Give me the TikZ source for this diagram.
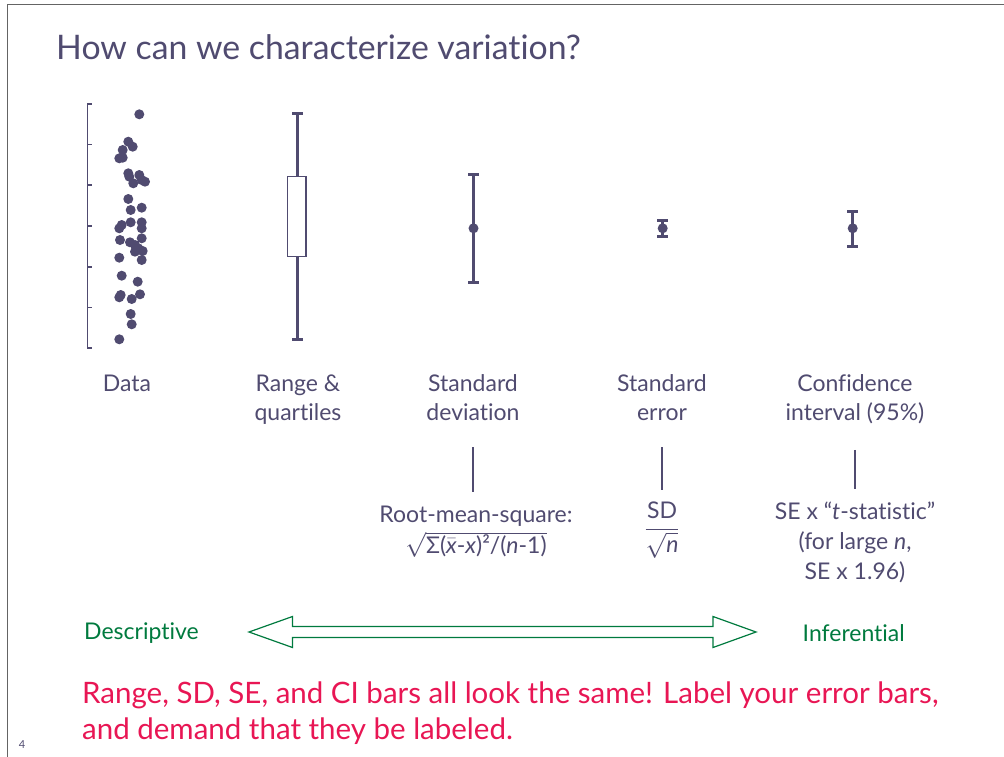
\documentclass[tikz,border=0pt]{standalone}
\usepackage{fontspec}
\setmainfont[Ligatures={NoCommon,NoRequired}]{Lato}
\definecolor{mainclr}{RGB}{80,75,112}
\definecolor{greenclr}{RGB}{0,122,62}
\definecolor{redclr}{RGB}{232,22,84}
\definecolor{frameclr}{RGB}{100,100,100}

\begin{document}
\begin{tikzpicture}[x=1pt, y=-1pt, text=mainclr, font=\fontsize{23}{29}\selectfont]
    \tikzstyle{bar_line} = [mainclr, line width=3pt]
    \tikzstyle{thin_line} = [mainclr, line width=1.2pt]
    \tikzstyle{label_text} = [align=center, inner sep=0pt]
    \tikzstyle{green_text} = [text=greenclr, font=\fontsize{23}{27}\selectfont, inner sep=0pt]

    \useasboundingbox (0,0) rectangle (1004,757);
    \draw[frameclr, line width=1.5pt] (7.5,757) -- (7.5,4.5) -- (1004,4.5);

    \node[anchor=west, inner sep=0pt, font=\fontsize{33.8}{38}\selectfont] (title) at (56,47) {How can we characterize variation?};

    % data axis
    \draw[thin_line] (91.5,104) -- (87.5,104) -- (87.5,348) -- (91.5,348);
    \foreach \y in {144.5,185,226,267,307.5}
        \draw[thin_line] (87.5,\y) -- (91.5,\y);

    % data points
    \foreach \x/\y in {139.3/114.3, 128.3/141.7, 132.7/146.7, 122.7/150, 119.3/158.3, 122.7/157.7,
                       128.3/173.3, 129.3/176.7, 139.3/175, 133.3/183.3, 145/181.7, 141.7/180,
                       128.3/199, 141.7/207.7, 130.7/210, 121.7/225, 119.3/228.3, 130.7/222.3,
                       141.7/222.3, 141.7/228.3, 120/240, 141.7/238.3, 130/242.3, 135/245,
                       138.3/248.3, 135/251.7, 142.7/251, 119.3/257.7, 141.7/260, 121.7/275.7,
                       137.7/281.7, 140/294.3, 120.7/295, 119.3/297.3, 131.7/299, 130.7/314,
                       131.7/324.3, 119.3/339.3}
        \fill[mainclr] (\x,\y) circle[radius=5];

    % range & quartiles
    \draw[bar_line] (297.3,113.3) -- (297.3,176.7);
    \draw[bar_line] (297.3,256.3) -- (297.3,339.3);
    \draw[bar_line] (292,113.3) -- (302.6,113.3);
    \draw[bar_line] (292,339.3) -- (302.6,339.3);
    \draw[mainclr, line width=1.5pt, fill=white] (287.5,176.7) rectangle (306,256.3);

    % error bars
    \foreach \x/\ytop/\ybot in {473.5/174/282.7, 662.7/220/236.7, 852.7/211/246} {
        \draw[bar_line] (\x,\ytop) -- (\x,\ybot);
        \draw[bar_line] (\x-5.5,\ytop) -- (\x+5.5,\ytop);
        \draw[bar_line] (\x-5.5,\ybot) -- (\x+5.5,\ybot);
        \fill[mainclr] (\x,228.3) circle[radius=5];
    }

    \node[label_text] (lbl_data) at (127,383) {Data};
    \node[label_text] (lbl_range) at (298,400) {Range \&\\quartiles};
    \node[label_text] (lbl_sd) at (473,398) {Standard\\deviation};
    \node[label_text] (lbl_se) at (662,398) {Standard\\error};
    \node[label_text] (lbl_ci) at (855,399) {Confidence\\interval (95\%)};

    \node[label_text] (form_sd) at (476,532) {Root-mean-square:\\[2pt]
        $\sqrt{\hbox{Σ($\bar{\hbox{\itshape x}}$-\textit{x})²/(\textit{n}-1)}}$};
    \node[label_text] (form_se) at (662,530) {$\displaystyle\frac{\hbox{SD}}{\sqrt{\hbox{\itshape n}}}$};
    \node[label_text, font=\fontsize{23}{30}\selectfont] (form_ci) at (855,542.5)
        {SE x “\textit{t}-statistic”\\(for large \textit{n},\\SE x 1.96)};

    \draw[thin_line, shorten <=26pt, shorten >=14pt] (lbl_sd.south) -- (lbl_sd.south |- form_sd.north);
    \draw[thin_line, shorten <=26pt, shorten >=12pt] (lbl_se.south) -- (lbl_se.south |- form_se.north);
    \draw[thin_line, shorten <=26pt, shorten >=13pt] (lbl_ci.south) -- (lbl_ci.south |- form_ci.north);

    \node[green_text, anchor=west] (desc) at (84,633) {Descriptive};
    \node[green_text, anchor=east] (infer) at (905,633) {Inferential};

    % hollow double arrow
    \draw[greenclr, line width=1.2pt, line join=miter]
        (249,632) -- (292.5,616.5) -- (292.5,626.5) -- (713,626.5) -- (713,616.5) -- (756,632)
        -- (713,647.5) -- (713,637.5) -- (292.5,637.5) -- (292.5,647.5) -- cycle;

    \node[anchor=west, align=left, inner sep=0pt, text=redclr, font=\fontsize{29.5}{36}\selectfont] (note) at (82,713)
        {Range, SD, SE, and CI bars all look the same! Label your error bars,\\and demand that they be labeled.};

    \node[inner sep=0pt, font=\fontsize{11}{13}\selectfont] (pagenum) at (22,745) {4};
\end{tikzpicture}
\end{document}
